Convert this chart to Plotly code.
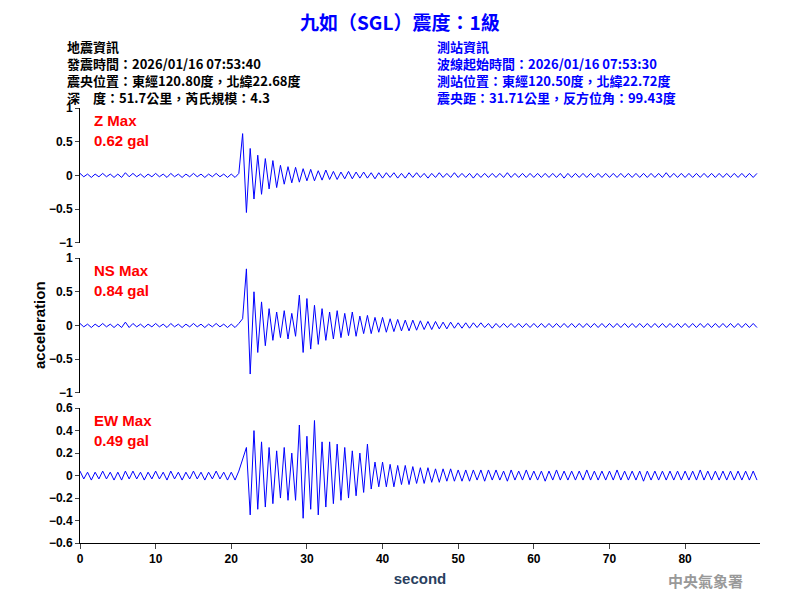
import numpy as np
import plotly.graph_objects as go

dt = 0.5
z_acc = [
    0.03, -0.02, 0.02, -0.03, 0.02, -0.02, 0.03, -0.02, 0.02, -0.03,
    0.02, -0.03, 0.04, -0.02, 0.03, -0.02, 0.02, -0.03, 0.02, -0.02,
    0.03, -0.02, 0.02, -0.03, 0.03, -0.02, 0.02, -0.03, 0.02, -0.02,
    0.03, -0.02, 0.02, -0.03, 0.02, -0.02, 0.03, -0.02, 0.02, -0.03,
    0.02, -0.03, 0.03, 0.62, -0.55, 0.40, -0.35, 0.30, -0.28, 0.25,
    -0.20, 0.22, -0.18, 0.15, -0.13, 0.13, -0.11, 0.12, -0.10, 0.10,
    -0.08, 0.09, -0.08, 0.07, -0.07, 0.08, -0.06, 0.06, -0.06, 0.05,
    -0.05, 0.06, -0.05, 0.05, -0.04, 0.05, -0.04, 0.04, -0.05, 0.04,
    -0.04, 0.04, -0.03, 0.04, -0.04, 0.03, -0.04, 0.04, -0.03, 0.04,
    -0.03, 0.03, -0.04, 0.03, -0.03, 0.04, -0.03, 0.03, -0.03, 0.04,
    -0.03, 0.03, -0.03, 0.03, -0.04, 0.03, -0.03, 0.03, -0.03, 0.03,
    -0.03, 0.03, -0.03, 0.04, -0.03, 0.03, -0.03, 0.03, -0.03, 0.03,
    -0.03, 0.03, -0.03, 0.03, -0.03, 0.03, -0.03, 0.03, -0.04, 0.03,
    -0.03, 0.03, -0.03, 0.03, -0.03, 0.03, -0.03, 0.03, -0.03, 0.03,
    -0.03, 0.03, -0.03, 0.03, -0.03, 0.03, -0.03, 0.03, -0.03, 0.03,
    -0.03, 0.03, -0.03, 0.03, -0.03, 0.04, -0.03, 0.03, -0.03, 0.03,
    -0.03, 0.03, -0.03, 0.03, -0.03, 0.03, -0.03, 0.03, -0.03, 0.03,
    -0.03, 0.03, -0.03, 0.03, -0.03, 0.03, -0.03, 0.03, -0.03, 0.03,
]
ns_acc = [
    0.03, -0.02, 0.02, -0.03, 0.02, -0.02, 0.03, -0.02, 0.02, -0.03,
    0.02, -0.03, 0.05, -0.03, 0.03, -0.02, 0.02, -0.03, 0.02, -0.02,
    0.03, -0.02, 0.02, -0.03, 0.03, -0.02, 0.02, -0.03, 0.02, -0.02,
    0.03, -0.02, 0.02, -0.03, 0.02, -0.02, 0.03, -0.02, 0.02, -0.03,
    0.02, -0.03, 0.03, 0.10, 0.84, -0.72, 0.50, -0.40, 0.35, -0.30,
    0.25, -0.22, 0.20, -0.18, 0.22, -0.20, 0.18, -0.16, 0.45, -0.40,
    0.40, -0.35, 0.30, -0.28, 0.25, -0.22, 0.20, -0.20, 0.22, -0.18,
    0.18, -0.15, 0.20, -0.16, 0.14, -0.12, 0.15, -0.12, 0.12, -0.10,
    0.12, -0.10, 0.10, -0.09, 0.09, -0.08, 0.08, -0.08, 0.08, -0.07,
    0.07, -0.06, 0.06, -0.06, 0.06, -0.05, 0.05, -0.05, 0.05, -0.04,
    0.04, -0.04, 0.04, -0.04, 0.04, -0.03, 0.04, -0.03, 0.03, -0.04,
    0.03, -0.03, 0.03, -0.03, 0.03, -0.03, 0.03, -0.03, 0.03, -0.03,
    0.03, -0.03, 0.03, -0.03, 0.03, -0.03, 0.03, -0.03, 0.03, -0.03,
    0.03, -0.03, 0.03, -0.03, 0.03, -0.03, 0.03, -0.03, 0.03, -0.03,
    0.03, -0.03, 0.03, -0.03, 0.03, -0.03, 0.03, -0.03, 0.03, -0.03,
    0.03, -0.03, 0.03, -0.03, 0.03, -0.03, 0.03, -0.03, 0.03, -0.03,
    0.03, -0.03, 0.03, -0.03, 0.03, -0.03, 0.03, -0.03, 0.03, -0.03,
    0.03, -0.03, 0.03, -0.03, 0.03, -0.03, 0.03, -0.03, 0.03, -0.03,
]
ew_acc = [
    0.04, -0.03, 0.03, -0.04, 0.03, -0.03, 0.04, -0.03, 0.03, -0.04,
    0.03, -0.04, 0.04, -0.03, 0.04, -0.03, 0.03, -0.04, 0.03, -0.03,
    0.04, -0.03, 0.03, -0.04, 0.04, -0.03, 0.03, -0.04, 0.03, -0.03,
    0.04, -0.03, 0.03, -0.04, 0.03, -0.03, 0.04, -0.03, 0.03, -0.04,
    0.03, -0.04, 0.04, 0.15, 0.25, -0.35, 0.40, -0.30, 0.30, -0.28,
    0.25, -0.25, 0.22, -0.20, 0.25, -0.22, 0.20, -0.22, 0.45, -0.38,
    0.35, -0.30, 0.49, -0.35, 0.30, -0.28, 0.30, -0.25, 0.28, -0.22,
    0.25, -0.20, 0.22, -0.18, 0.20, -0.15, 0.28, -0.12, 0.12, -0.10,
    0.12, -0.10, 0.10, -0.10, 0.09, -0.08, 0.09, -0.08, 0.08, -0.07,
    0.07, -0.07, 0.07, -0.06, 0.06, -0.06, 0.06, -0.05, 0.06, -0.05,
    0.05, -0.05, 0.05, -0.05, 0.05, -0.04, 0.05, -0.05, 0.05, -0.04,
    0.05, -0.04, 0.04, -0.05, 0.05, -0.04, 0.04, -0.04, 0.05, -0.04,
    0.04, -0.04, 0.04, -0.05, 0.04, -0.04, 0.05, -0.04, 0.04, -0.04,
    0.04, -0.04, 0.04, -0.04, 0.05, -0.04, 0.04, -0.04, 0.04, -0.04,
    0.04, -0.04, 0.05, -0.04, 0.04, -0.04, 0.04, -0.04, 0.04, -0.05,
    0.04, -0.04, 0.04, -0.04, 0.04, -0.04, 0.04, -0.04, 0.04, -0.04,
    0.04, -0.04, 0.04, -0.04, 0.05, -0.04, 0.04, -0.04, 0.04, -0.04,
    0.04, -0.04, 0.04, -0.04, 0.04, -0.04, 0.04, -0.04, 0.04, -0.04,
]
t = np.arange(len(z_acc)) * dt

labels = ["Z Max", "NS Max", "EW Max"]
peaks = ["0.62 gal", "0.84 gal", "0.49 gal"]
header_left = ["地震資訊", "發震時間：2026/01/16 07:53:40",
               "震央位置：東經120.80度，北緯22.68度", "深　度：51.7公里，芮氏規模：4.3"]
header_right = ["測站資訊", "波線起始時間：2026/01/16 07:53:30",
                "測站位置：東經120.50度，北緯22.72度", "震央距：31.71公里，反方位角：99.43度"]

FONT = "Liberation Sans, Arial"
CJK = "Noto Sans CJK TC"
OFF = 8  # page body margin in the browser
L, R, T, B = 80 - OFF, 40 + OFF, 108 - OFF, 57 + OFF
PW, PH = 800 - L - R, 600 - T - B


def px(x, y):
    # reference pixel -> plot-paper coordinates
    return (x - OFF - L) / PW, (600 - (y - OFF) - B) / PH


fig = go.Figure()
series = [z_acc, ns_acc, ew_acc]
domains = [[0.690, 1.0], [0.345, 0.655], [0.0, 0.310]]
yranges = [[-1, 1], [-1, 1], [-0.6, 0.6]]
ydticks = [0.5, 0.5, 0.2]
for i, vals in enumerate(series):
    ax = "" if i == 0 else str(i + 1)
    fig.add_trace(go.Scatter(x=t, y=vals, mode="lines", line=dict(color="blue", width=1),
                             xaxis="x" + ax, yaxis="y" + ax, showlegend=False))
    fig.layout["yaxis" + ax] = dict(domain=domains[i], range=yranges[i], dtick=ydticks[i],
                                    showgrid=False, zeroline=False, showline=True, linecolor="black",
                                    ticks="outside", ticklen=4, automargin=False,
                                    tickfont=dict(size=12, color="black", weight="bold"),
                                    anchor="x" + ax)
    last = i == 2
    fig.layout["xaxis" + ax] = dict(range=[0, 89.9], dtick=10, showgrid=False, zeroline=False,
                                    showline=last, linecolor="black", ticks="outside" if last else "",
                                    showticklabels=last, anchor="y" + ax, automargin=False,
                                    tickfont=dict(size=12, color="black", weight="bold"),
                                    title=dict(text="<b>second</b>", font=dict(size=15), standoff=8) if last else None)
    fig.add_annotation(x=0.018, y=domains[i][1] - 0.005, xref="paper", yref="paper",
                       text="<b>" + labels[i] + "<br>" + peaks[i] + "</b>", showarrow=False, align="left",
                       xanchor="left", yanchor="top", font=dict(size=15, color="red", family=FONT))

fig.add_annotation(x=-0.075, y=0.5, xref="paper", yref="paper", text="<b>acceleration</b>", textangle=-90,
                   showarrow=False, font=dict(size=15, color="black", family=FONT))
tx, ty = px(400, 21)
fig.add_annotation(x=tx, y=ty, xref="paper", yref="paper", yanchor="middle",
                   text="<b>九如（SGL）震度：1級</b>", showarrow=False,
                   font=dict(size=19, color="blue", family=CJK))
lx, ly = px(65, 35)
rx, _ = px(435, 35)
fig.add_annotation(x=lx, y=ly, xref="paper", yref="paper",
                   text="<b>" + "<br>".join(header_left) + "</b>", showarrow=False, align="left",
                   xanchor="left", yanchor="top", font=dict(size=13, color="black", family=CJK))
fig.add_annotation(x=rx, y=ly, xref="paper", yref="paper",
                   text="<b>" + "<br>".join(header_right) + "</b>", showarrow=False, align="left",
                   xanchor="left", yanchor="top", font=dict(size=13, color="blue", family=CJK))
wx, wy = px(745, 580)
fig.add_annotation(x=wx, y=wy, xref="paper", yref="paper", text="<b>中央氣象署</b>",
                   showarrow=False, xanchor="right", yanchor="middle",
                   font=dict(size=15, color="#999999", family=CJK))

fig.update_layout(width=800, height=600, plot_bgcolor="white", paper_bgcolor="white",
                  margin=dict(l=L, r=R, t=T, b=B, autoexpand=False), font=dict(family=FONT))
fig.write_html("out.html")
